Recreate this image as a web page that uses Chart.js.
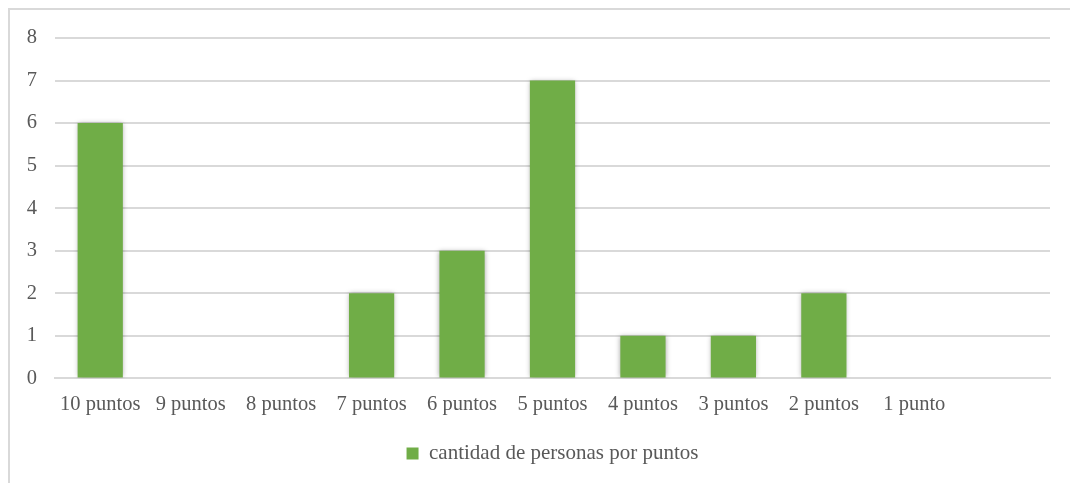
<!DOCTYPE html>
<html>
<head>
<meta charset="utf-8">
<script src="https://cdn.jsdelivr.net/npm/chart.js@4/dist/chart.umd.min.js"></script>
<style>
    html, body { margin: 0; padding: 0; background: #fff; }
    #wrap { position: relative; width: 1070px; height: 483px; overflow: hidden; }
    #frame {
        position: absolute; left: 8px; top: 8px; width: 1100px; height: 520px;
        border-left: 2px solid #d9d9d9; border-top: 2px solid #d9d9d9;
        box-sizing: border-box;
    }
    #chart { position: absolute; left: 0; top: 0; }
</style>
</head>
<body>
<div id="wrap">
    <div id="frame"></div>
    <canvas id="chart" width="1070" height="483"></canvas>
</div>
<script>
const categories = ['10 puntos', '9 puntos', '8 puntos', '7 puntos', '6 puntos',
    '5 puntos', '4 puntos', '3 puntos', '2 puntos', '1 punto', ''];
const personas = [6, 0, 0, 2, 3, 7, 1, 1, 2, 0, null];
const seriesName = 'cantidad de personas por puntos';
const yTicks = { min: 0, max: 8, step: 1 };

const textColor = '#595959';
const gridColor = '#d9d9d9';
const barColor = '#70ad47';
const fontFamily = '"Liberation Serif", "Times New Roman", serif';
const font = { family: fontFamily, size: 20.5 };

// soft drop shadow behind the bars
const barShadow = {
    id: 'barShadow',
    beforeDatasetsDraw(chart) {
        const ctx = chart.ctx;
        ctx.save();
        ctx.shadowColor = 'rgba(0,0,0,0.35)';
        ctx.shadowBlur = 5;
        ctx.shadowOffsetX = 0;
        ctx.shadowOffsetY = 0;
    },
    afterDatasetsDraw(chart) {
        chart.ctx.restore();
    }
};

new Chart(document.getElementById('chart'), {
    type: 'bar',
    data: {
        labels: categories,
        datasets: [{
            label: seriesName,
            data: personas,
            backgroundColor: barColor,
            borderWidth: 0,
            categoryPercentage: 1,
            barPercentage: 0.5
        }]
    },
    plugins: [barShadow],
    options: {
        responsive: false,
        animation: false,
        devicePixelRatio: 1,
        layout: { padding: { left: 0, right: 20, top: 38, bottom: 9 } },
        scales: {
            x: {
                grid: { display: false, drawTicks: false },
                border: { display: true, color: gridColor, width: 2 },
                ticks: { color: textColor, font, padding: 14, maxRotation: 0, autoSkip: false }
            },
            y: {
                min: yTicks.min,
                max: yTicks.max,
                grid: { color: gridColor, lineWidth: 2, drawTicks: false },
                border: { display: false },
                ticks: { stepSize: yTicks.step, color: textColor, font, padding: 18 },
                afterFit(scale) { scale.width = 55; }
            }
        },
        plugins: {
            legend: {
                position: 'bottom',
                fullSize: false, // centre under the plot area
                labels: {
                    color: textColor,
                    font: { family: fontFamily, size: 21 },
                    boxWidth: 12,
                    boxHeight: 12,
                    padding: 12,
                    useBorderRadius: false
                }
            },
            tooltip: { enabled: false }
        }
    }
});
</script>
</body>
</html>
